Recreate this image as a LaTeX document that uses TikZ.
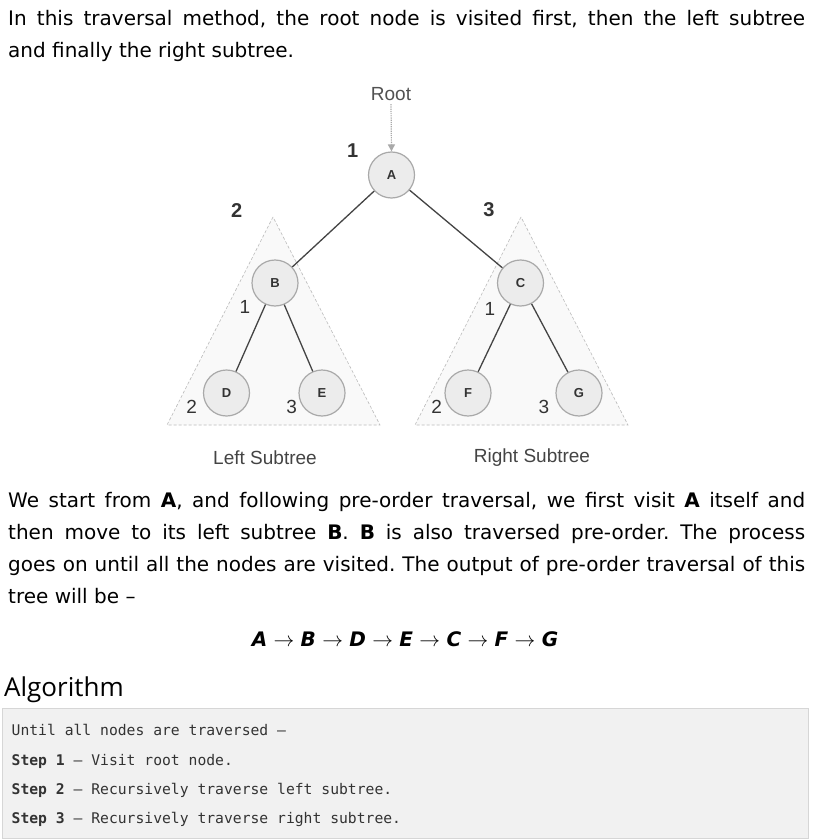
\documentclass[tikz,border=0pt]{standalone}
\usepackage{fontspec}
\setmainfont{DejaVu Sans}
\setmonofont{DejaVu Sans Mono}
\newfontfamily\figfont{Liberation Sans}
\newfontfamily\headfont{Open Sans}
\usetikzlibrary{arrows.meta}
\definecolor{nodefill}{HTML}{ECECEC}
\definecolor{nodeline}{HTML}{A9A9A9}
\definecolor{trifill}{HTML}{F9F9F9}
\definecolor{triline}{HTML}{BBBBBB}
\definecolor{linkcol}{HTML}{444444}
\definecolor{labcol}{HTML}{333333}
\definecolor{boxfill}{HTML}{F1F1F1}
\definecolor{boxline}{HTML}{D6D6D6}
\hyphenpenalty=10000
\exhyphenpenalty=10000
\tikzset{
  treenode/.style={circle, minimum size=46pt, inner sep=0pt, fill=nodefill, draw=nodeline,
    line width=1.2pt, text=labcol, font=\figfont\bfseries\fontsize{13pt}{13pt}\selectfont},
  subtri/.style={fill=trifill, draw=triline, line width=0.6pt, dash pattern=on 3pt off 2pt},
  treelink/.style={draw=linkcol, line width=1.3pt},
  steplab/.style={text=labcol, inner sep=0pt, font=\figfont\bfseries\fontsize{20pt}{20pt}\selectfont},
  sublab/.style={text=labcol, inner sep=0pt, font=\figfont\fontsize{19pt}{19pt}\selectfont},
  paratext/.style={anchor=north west, inner sep=0pt, text width=797pt, align=justify,
    font=\fontsize{20pt}{32pt}\selectfont\frenchspacing}
}
\begin{document}
\begin{tikzpicture}[x=1pt, y=-1pt]
  \useasboundingbox (0,0) rectangle (813,840);
  \fill[white] (0,0) rectangle (813,840);
  % Text above the tree
  \node[paratext] (intro) at (8,9.8) {\noindent In this traversal method, the root node is visited first, then the left subtree\linebreak and finally the right subtree.};
  % Dashed triangles round the two subtrees
  \fill[subtri] (273,217) -- (167,425) -- (380,425) -- cycle;
  \fill[subtri] (521,217) -- (415,425) -- (628,425) -- cycle;
  % Tree nodes
  \foreach \name/\x/\y in {A/391.5/175, B/275/283, C/520.5/283, D/226.5/393, E/322/393, F/468/393, G/579/393} {
    \node[treenode] (\name) at (\x,\y) {\name};
  }
  % Links between nodes
  \foreach \from/\to in {A/B, A/C, B/D, B/E, C/F, C/G} {
    \draw[treelink] (\from) -- (\to);
  }
  % Root pointer
  \node[text=labcol!85, font=\figfont\fontsize{19pt}{19pt}\selectfont] (root) at (391,94) {Root};
  \draw[draw=nodeline, line width=1.2pt, densely dotted, -{Triangle[length=7pt,width=7pt]}] (root.south) -- (A.north);
  % Order of visits
  \node[steplab] (n1) at (352.7,150.7) {1};
  \node[steplab] (n2) at (236.7,210.7) {2};
  \node[steplab] (n3) at (489,210) {3};
  \node[sublab] (l1) at (245,306.7) {1};
  \node[sublab] (l2) at (191.7,406.7) {2};
  \node[sublab] (l3) at (291.7,406.7) {3};
  \node[sublab] (r1) at (490,309) {1};
  \node[sublab] (r2) at (436.7,407) {2};
  \node[sublab] (r3) at (544,407) {3};
  \node[sublab, text=linkcol] (left) at (265,458) {Left Subtree};
  \node[sublab, text=linkcol] (right) at (532,458) {Right Subtree};
  % Text below the tree
  \node[paratext] (explain) at (8,491.8) {\noindent We start from \textbf{A}, and following pre-order traversal, we first visit \textbf{A} itself and\linebreak then move to its left subtree \textbf{B}. \textbf{B} is also traversed pre-order. The process\linebreak goes on until all the nodes are visited. The output of pre-order traversal of this\linebreak tree will be –};
  \node[anchor=base, inner sep=0pt, font=\fontsize{20pt}{20pt}\selectfont] (order) at (405,646)
    {\textbf{\textit{A}} $\rightarrow$ \textbf{\textit{B}} $\rightarrow$ \textbf{\textit{D}} $\rightarrow$ \textbf{\textit{E}} $\rightarrow$ \textbf{\textit{C}} $\rightarrow$ \textbf{\textit{F}} $\rightarrow$ \textbf{\textit{G}}};
  % Algorithm box
  \node[anchor=base west, inner sep=0pt, font=\headfont\fontsize{26pt}{26pt}\selectfont] (algo) at (4,696) {Algorithm};
  \draw[draw=boxline, fill=boxfill, line width=1pt] (2.5,708.5) rectangle (808.5,838.5);
  \foreach \i/\y/\txt in {0/735/{Until all nodes are traversed –},
      1/765/{\textbf{Step 1} – Visit root node.},
      2/794/{\textbf{Step 2} – Recursively traverse left subtree.},
      3/823/{\textbf{Step 3} – Recursively traverse right subtree.}} {
    \node[anchor=base west, inner sep=0pt, text=labcol, font=\ttfamily\fontsize{14.7pt}{14.7pt}\selectfont] (step\i) at (11.5,\y) {\txt};
  }
\end{tikzpicture}
\end{document}
